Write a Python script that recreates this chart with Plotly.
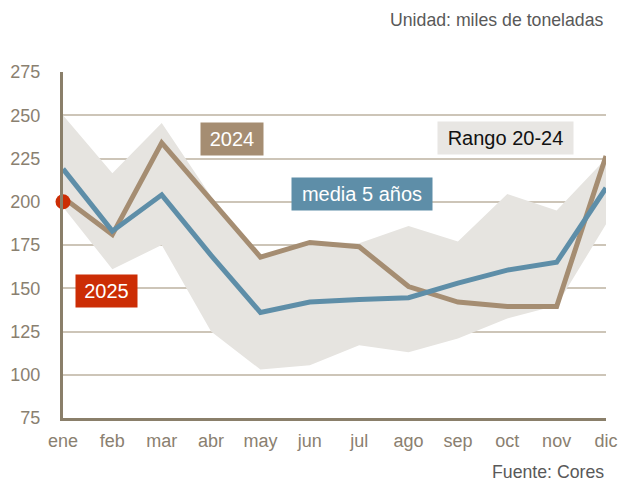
import plotly.graph_objects as go

months = ["ene", "feb", "mar", "abr", "may", "jun", "jul", "ago", "sep", "oct", "nov", "dic"]
y_ticks = [75, 100, 125, 150, 175, 200, 225, 250, 275]

media_5 = [219, 183, 204, 169, 136, 142, 143.5, 144.5, 153, 160.5, 165, 208]
serie_2024 = [202.5, 181, 234, 201, 168, 176.5, 174, 151, 142, 139.5, 139.5, 226.5]
rango_max = [250, 216.5, 245.5, 203, 168.5, 177, 176, 186, 177, 204.5, 195, 225]
rango_min = [197, 161, 175, 125, 103, 105.5, 117, 113, 121, 132.5, 140, 187]
serie_2025 = [200]

xs = list(range(len(months)))

TAN = "#a58d72"
BLUE = "#5e8ea8"
BAND = "#e6e4e0"
RED = "#cc2d05"
AXIS = "#8a7f6a"
GRID = "#cdc5b8"
TICK = "#8a8070"
FONT = "Liberation Sans, Arial, sans-serif"

fig = go.Figure()
fig.add_trace(go.Scatter(x=xs, y=rango_max, mode="lines", line=dict(width=0, color=BAND),
                         hoverinfo="skip", showlegend=False))
fig.add_trace(go.Scatter(x=xs, y=rango_min, mode="lines", line=dict(width=0, color=BAND),
                         fill="tonexty", fillcolor=BAND, hoverinfo="skip", showlegend=False))
fig.add_trace(go.Scatter(x=xs, y=serie_2024, mode="lines", line=dict(width=5, color=TAN),
                         showlegend=False, name="2024"))
fig.add_trace(go.Scatter(x=xs, y=media_5, mode="lines", line=dict(width=5, color=BLUE),
                         showlegend=False, name="media 5 años"))
fig.add_trace(go.Scatter(x=xs[:len(serie_2025)], y=serie_2025, mode="markers",
                         marker=dict(size=15, color=RED), showlegend=False, name="2025",
                         cliponaxis=False))

def label(text, x, y, bg, fg, w):
    fig.add_annotation(x=x, y=y, xref="x", yref="y", text=text, showarrow=False,
                       bgcolor=bg, font=dict(family=FONT, size=20, color=fg),
                       borderpad=5, width=w, height=22, align="center",
                       xanchor="center", yanchor="middle")

label("2024", 3.43, 236.2, TAN, "white", 52)
label("media 5 años", 6.06, 204.4, BLUE, "white", 130)
label("Rango 20-24", 8.97, 236.7, "#e8e6e3", "#111111", 125)
label("2025", 0.89, 148.5, RED, "white", 51)

fig.add_annotation(x=1, y=1, xref="paper", yref="paper", xanchor="right", yanchor="middle",
                   yshift=52, text="Unidad: miles de toneladas", showarrow=False,
                   font=dict(family=FONT, size=17.7, color="#595959"))
fig.add_annotation(x=1, y=0, xref="paper", yref="paper", xanchor="right", yanchor="middle",
                   yshift=-54, text="Fuente: Cores", showarrow=False,
                   font=dict(family=FONT, size=17.7, color="#595959"))

fig.update_xaxes(range=[0, 11], tickvals=xs, ticktext=months, showgrid=False,
                 showline=True, linecolor=AXIS, linewidth=3, ticks="", zeroline=False,
                 tickfont=dict(family=FONT, size=18, color=TICK), ticklabelstandoff=4,
                 automargin=False, fixedrange=True)
fig.update_yaxes(range=[75, 275], tickvals=y_ticks, showgrid=True, gridcolor=GRID, gridwidth=2,
                 showline=True, linecolor=AXIS, linewidth=3, ticks="", zeroline=False,
                 tickfont=dict(family=FONT, size=18, color=TICK), ticklabelstandoff=16,
                 automargin=False, fixedrange=True)

fig.update_layout(width=621, height=485, margin=dict(l=63, r=15, t=72, b=67),
                  paper_bgcolor="white", plot_bgcolor="white", showlegend=False,
                  font=dict(family=FONT), hovermode=False)

fig.write_html("out.html", config={"displayModeBar": False, "staticPlot": True},
               post_script="document.body.style.margin='0';document.body.style.overflow='hidden';")
